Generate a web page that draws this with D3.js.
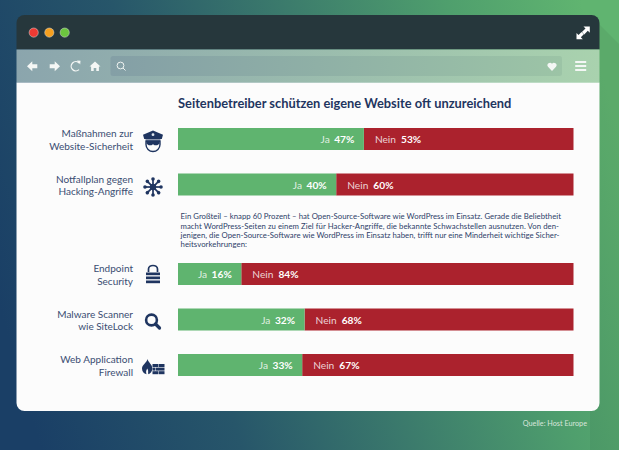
<!DOCTYPE html>
<html><head><meta charset="utf-8">
<script src="https://cdnjs.cloudflare.com/ajax/libs/d3/7.8.5/d3.min.js"></script>
<style>html,body{margin:0;padding:0;background:#fff}svg{display:block}text{font-family:Lato,"Open Sans",sans-serif}</style>
</head><body><svg id="c" width="619" height="450"></svg>
<script>
const title = "Seitenbetreiber schützen eigene Website oft unzureichend";
const categories = [["Maßnahmen zur","Website-Sicherheit"],["Notfallplan gegen","Hacking-Angriffe"],["Endpoint","Security"],["Malware Scanner","wie SiteLock"],["Web Application","Firewall"]];
const jaLengths = [47,40,16,32,31.4];      // length of the green bar as drawn
const jaLabels = ["47%","40%","16%","32%","33%"];
const neinLabels = ["53%","60%","84%","68%","67%"];
const paragraph = ["Ein Großteil – knapp 60 Prozent – hat Open-Source-Software wie WordPress im Einsatz. Gerade die Beliebtheit",
"macht WordPress-Seiten zu einem Ziel für Hacker-Angriffe, die bekannte Schwachstellen ausnutzen. Von den-",
"jenigen, die Open-Source-Software wie WordPress im Einsatz haben, trifft nur eine Minderheit wichtige Sicher-",
"heitsvorkehrungen:"];
const source = "Quelle: Host Europe";

const svg = d3.select("#c"), navy="#1f3560", green="#5fb46f", red="#ab222d";
const defs = svg.append("defs");
function lg(id,x1,y1,x2,y2,stops){const g=defs.append("linearGradient").attr("id",id).attr("gradientUnits","userSpaceOnUse")
 .attr("x1",x1).attr("y1",y1).attr("x2",x2).attr("y2",y2);
 stops.forEach(s=>g.append("stop").attr("offset",s[0]).attr("stop-color",s[1]));}
lg("bg",0,310,619,130,[[0,"#1a3f66"],[0.3,"#27566a"],[0.55,"#3b7a6c"],[0.8,"#4f9f6d"],[1,"#60b470"]]);
lg("tb",16,0,600,0,[[0,"#8ba5ad"],[1,"#a9d2ae"]]);
lg("sf",110,0,562,0,[[0,"#849fa6"],[1,"#9cc4a6"]]);

svg.append("rect").attr("width",619).attr("height",450).attr("fill","url(#bg)");
svg.append("path").attr("d","M590 15L619 44V450H590Z").attr("fill","#000").attr("opacity",0.05);
svg.append("path").attr("d","M16.5 49.5V23a8 8 0 0 1 8-8H591.5a8 8 0 0 1 8 8V49.5Z").attr("fill","#26373c");
svg.append("rect").attr("x",16.5).attr("y",49.5).attr("width",583).attr("height",33).attr("fill","url(#tb)");
svg.append("path").attr("d","M16.5 82.5H599.5V403a8 8 0 0 1-8 8H24.5a8 8 0 0 1-8-8Z").attr("fill","#fcfcfc");
svg.append("rect").attr("x",110.5).attr("y",56).attr("width",451.5).attr("height",20).attr("rx",2.5).attr("fill","url(#sf)");
[["#ee3a33",33.7],["#f6a01f",49.3],["#6cc63f",64.7]].forEach(d=>svg.append("circle").attr("cx",d[1]).attr("cy",32.6).attr("r",4.6).attr("fill",d[0]).attr("stroke","#d9dedc").attr("stroke-width",0.5));

const tool = svg.append("g").attr("fill","#f4f7f5");
tool.append("path").attr("d","M27 66.3l5.3-5v3h5v4h-5v3z");
tool.append("path").attr("d","M60 66.3l-5.3-5v3h-5v4h5v3z");
tool.append("path").attr("d","M79 63a4.6 4.6 0 1 0 0 6.6").attr("fill","none").attr("stroke","#f4f7f5").attr("stroke-width",1.3);
tool.append("path").attr("d","M77 60.5l3.5 .3-.3 3.6z");
tool.append("path").attr("d","M89.5 66.5l5.5-5 5.5 5h-1.6v4.5h-2.6v-3h-2.6v3h-2.6v-4.5z");
svg.append("circle").attr("cx",120.5).attr("cy",65.5).attr("r",3.4).attr("fill","none").attr("stroke","#eef3f1").attr("stroke-width",1);
svg.append("line").attr("x1",123).attr("y1",68).attr("x2",125.5).attr("y2",70.5).attr("stroke","#eef3f1").attr("stroke-width",1);
tool.append("path").attr("d","M552 71l-4-4.2a2.5 2.5 0 0 1 4-3 2.5 2.5 0 0 1 4 3z");
[62,66,70].forEach(y=>tool.append("rect").attr("x",575.2).attr("y",y-1).attr("width",11).attr("height",2));
const ex = svg.append("g").attr("fill","#fff");
ex.append("path").attr("d","M583.5 26.5h6.3v6.3l-2-2-3.6 3.6-2.3-2.3 3.6-3.6z");
ex.append("path").attr("d","M576.5 33v6.3h6.3l-2-2 3-3-2.3-2.3-3 3z");

svg.append("text").attr("x",178).attr("y",108).attr("font-size",12.85).attr("font-weight",700).attr("fill",navy).text(title);

const x = d3.scaleLinear().domain([0,100]).range([178,573.5]);
const yOf = [128,173.5,263,308.5,354];
const h = 22;
const g = svg.append("g");
const data = categories.map((c,i)=>({c,ja:jaLengths[i],jl:jaLabels[i],nl:neinLabels[i],y:yOf[i]}));
g.selectAll("rect.n").data(data).join("rect").attr("class","n").attr("x",d=>x(d.ja)).attr("y",d=>d.y).attr("width",d=>x(100)-x(d.ja)).attr("height",h).attr("fill",red);
g.selectAll("rect.j").data(data).join("rect").attr("class","j").attr("x",x(0)).attr("y",d=>d.y).attr("width",d=>x(d.ja)-x(0)).attr("height",h).attr("fill",green);
data.forEach(d=>{
  const cy=d.y+15, sx=x(d.ja);
  const t1=g.append("text").attr("x",sx-9.5).attr("y",cy).attr("text-anchor","end").attr("font-size",10.2).attr("fill","#fff");
  t1.append("tspan").attr("fill-opacity",0.8).text("Ja");
  t1.append("tspan").attr("dx",4.5).attr("font-weight",700).text(d.jl);
  const t2=g.append("text").attr("x",sx+11).attr("y",cy).attr("font-size",10.2).attr("fill","#fff");
  t2.append("tspan").attr("fill-opacity",0.8).text("Nein");
  t2.append("tspan").attr("dx",5).attr("font-weight",700).text(d.nl);
  d.c.forEach((l,k)=>svg.append("text").attr("x",133).attr("y",d.y+9.3+k*12.2).attr("text-anchor","end").attr("font-size",10).attr("fill","#3a4d72").text(l));
});

const paraEnds = [561,559,559.5,247];
paragraph.forEach((l,i)=>svg.append("text").attr("x",180.5).attr("y",219.3+i*9.35).attr("font-size",7.75).attr("textLength",paraEnds[i]-180.5).attr("lengthAdjust","spacing").attr("fill","#2c4068").text(l));
svg.append("text").attr("x",587).attr("y",425.5).attr("text-anchor","end").attr("font-size",7.25).attr("fill","#d8e6dc").text(source);

const ic = svg.append("g").attr("fill",navy);
ic.append("path").attr("d","M153 130.5l10 4.3-1.2 4.2h-17.6l-1.2-4.2z");
ic.append("rect").attr("x",145.5).attr("y",139.5).attr("width",15).attr("height",1.3);
ic.append("path").attr("d","M146 141.5h14v3a7 7 0 0 1-14 0z").attr("fill","none").attr("stroke",navy).attr("stroke-width",1.4);
ic.append("path").attr("d","M146.5 142h13v1.8l-2.3 1.5h-2.7l-1.5-1-1.5 1h-2.7l-2.3-1.5z");
ic.append("circle").attr("cx",153).attr("cy",134.7).attr("r",1.4).attr("fill","#dfe6ee");
const fl = ic.append("g").attr("transform","translate(153,187)");
[0,45,90,135].forEach(a=>{fl.append("line").attr("x1",-9).attr("x2",9).attr("stroke",navy).attr("stroke-width",1.7).attr("transform",`rotate(${a})`);});
[0,45,90,135,180,225,270,315].forEach(a=>fl.append("circle").attr("cx",8).attr("r",1.8).attr("transform",`rotate(${a})`));
fl.append("circle").attr("r",3.2);
ic.append("path").attr("d","M148.5 272v-3a4.5 3.5 0 0 1 9 0v3").attr("fill","none").attr("stroke",navy).attr("stroke-width",1.7);
[272.5,276.5,280.5].forEach(y=>ic.append("rect").attr("x",146).attr("y",y).attr("width",14).attr("height",2.7));
ic.append("circle").attr("cx",151.5).attr("cy",320).attr("r",5.4).attr("fill","none").attr("stroke",navy).attr("stroke-width",2.6);
ic.append("line").attr("x1",155.5).attr("y1",324).attr("x2",159.5).attr("y2",328).attr("stroke",navy).attr("stroke-width",3.2).attr("stroke-linecap","round");
ic.append("path").attr("d","M147.5 359c.6 3.5 4.8 5 4.8 9.5 0 3-1.8 5-4 5.8-.6-2 .6-3.4-1-5.8-1.4 2-1.4 3.6-.8 5.8-2.8-.6-4.5-3.2-4.5-5.8 0-3.6 4.5-5.5 5.5-9.5z");
[[152.5,364,5.5],[158.5,364,6],[152.5,367.6,3],[156,367.6,8.5],[152.5,371.2,5.5],[158.5,371.2,6]].forEach(r=>ic.append("rect").attr("x",r[0]).attr("y",r[1]).attr("width",r[2]).attr("height",3));
</script></body></html>
